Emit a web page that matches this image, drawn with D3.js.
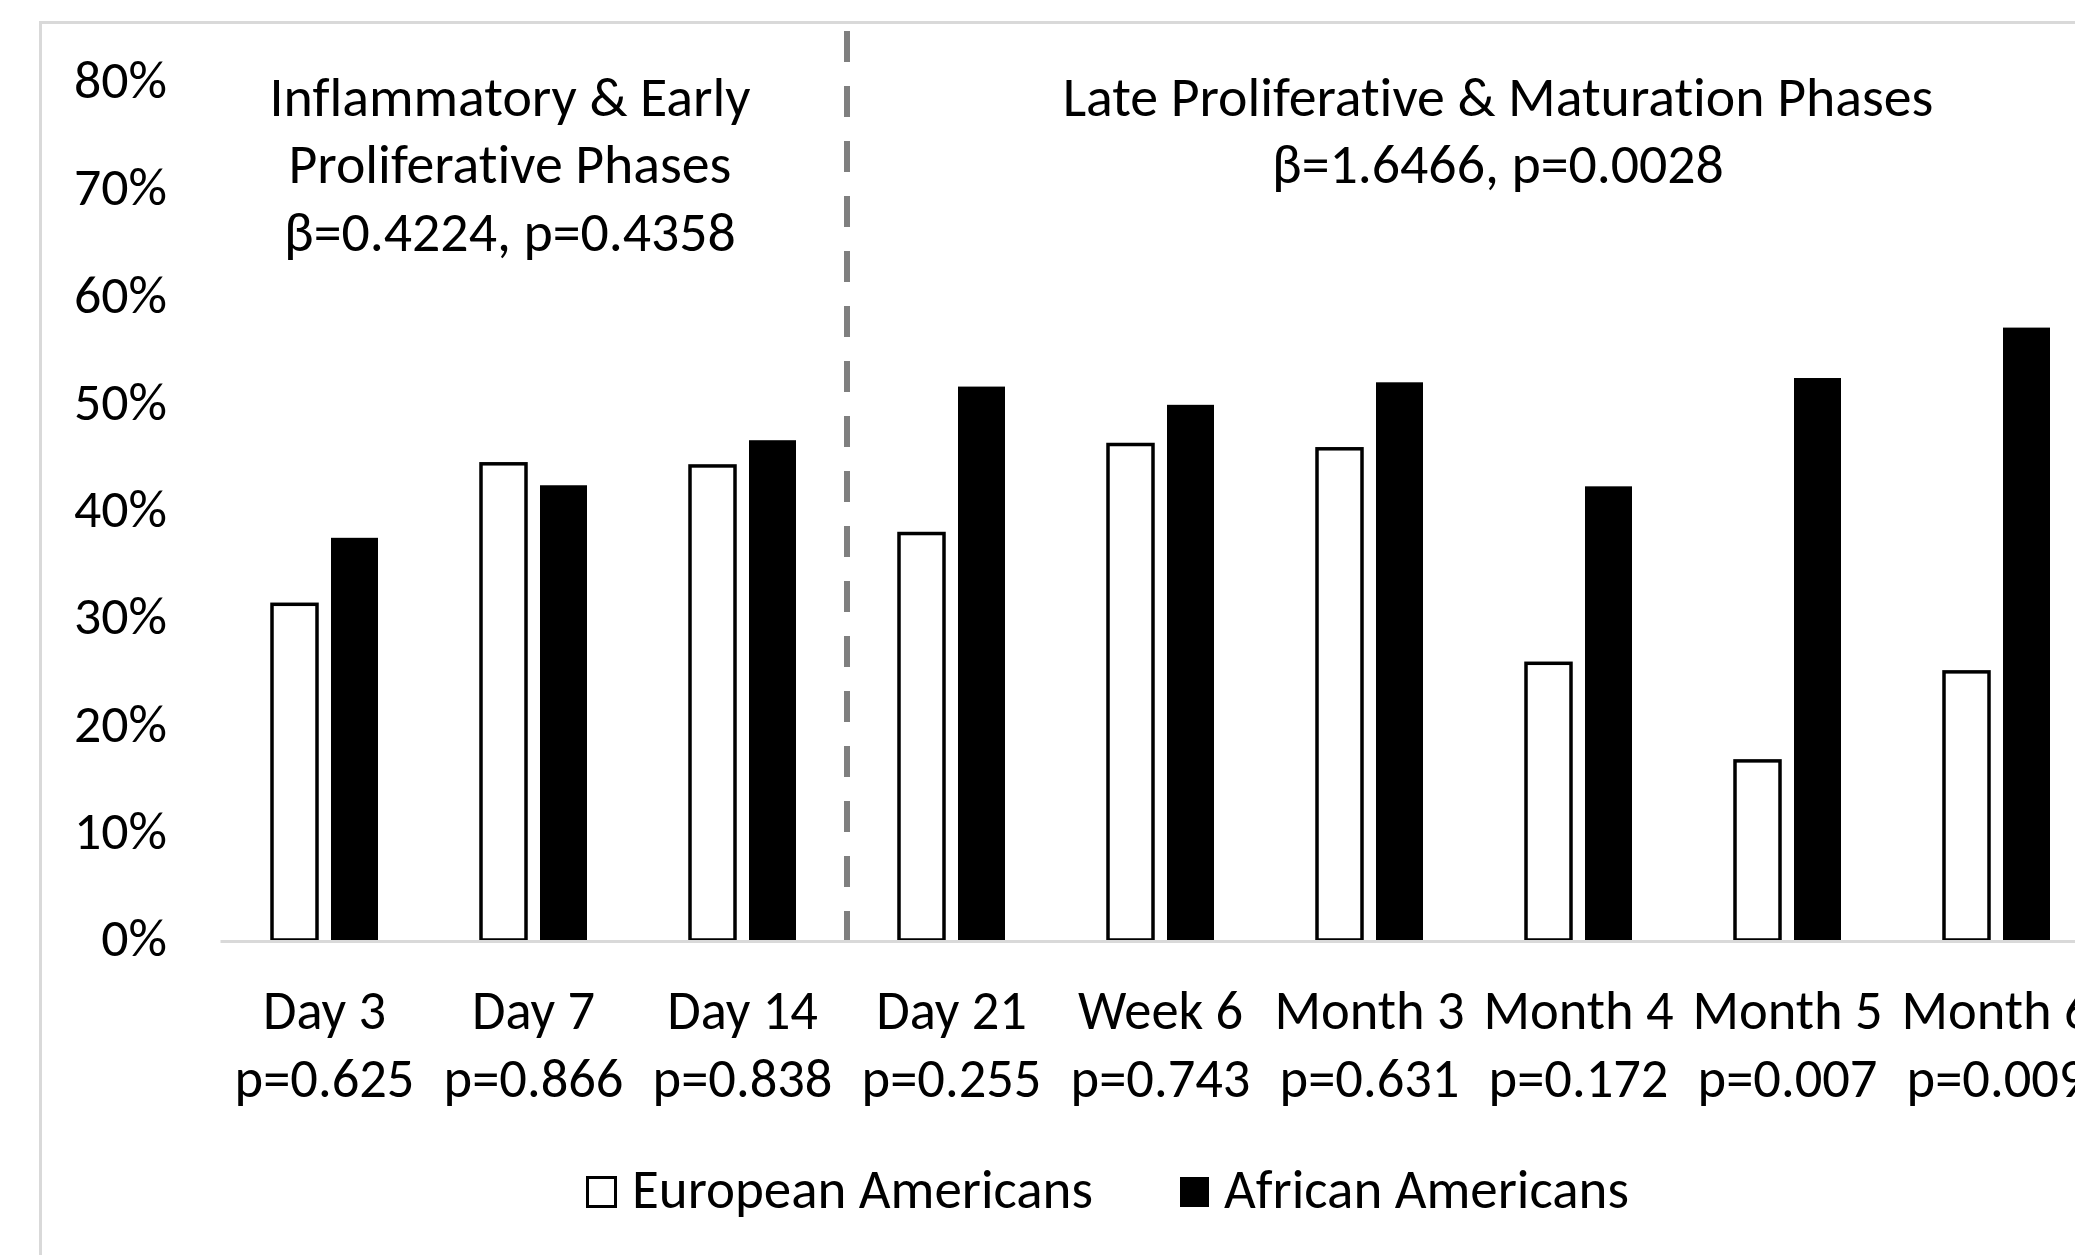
<!DOCTYPE html>
<html><head><meta charset="utf-8">
<script src="https://cdn.jsdelivr.net/npm/d3@7"></script>
<style>html,body{margin:0;padding:0;background:#fff;overflow:hidden}
text{font-variant-ligatures:none;font-feature-settings:"liga" 0,"clig" 0;}</style>
</head><body>
<svg id="chart" width="2075" height="1255" xmlns="http://www.w3.org/2000/svg"></svg>
<script>
// ---------- data ----------
const categories = ["Day 3","Day 7","Day 14","Day 21","Week 6","Month 3","Month 4","Month 5","Month 6"];
const pValues = ["p=0.625","p=0.866","p=0.838","p=0.255","p=0.743","p=0.631","p=0.172","p=0.007","p=0.009"];
const seriesNames = ["European Americans","African Americans"];
const europeanAmericans = [0.313,0.444,0.442,0.379,0.462,0.458,0.258,0.167,0.250];
const africanAmericans  = [0.375,0.424,0.466,0.516,0.499,0.520,0.423,0.524,0.571];
const yTicks = [0,0.1,0.2,0.3,0.4,0.5,0.6,0.7,0.8];
const earlyPhaseLabel = ["Inflammatory & Early","Proliferative Phases","β=0.4224, p=0.4358"];
const latePhaseLabel = ["Late Proliferative & Maturation Phases","β=1.6466, p=0.0028"];
const phaseBoundary = "Day 21";

// ---------- setup ----------
const FONT = "Carlito, Calibri, Lato, 'Open Sans', sans-serif";
const svg = d3.select("#chart");
const fills = {"European Americans":"#ffffff","African Americans":"#000000"};
const seriesValues = {"European Americans":europeanAmericans,"African Americans":africanAmericans};

function fit(sample, target){
  const t = svg.append("text").attr("font-family",FONT).attr("font-size",100).text(sample);
  const w = t.node().getComputedTextLength();
  t.remove();
  return 100*target/w;
}
const fsTick = fit("80%", 93);
const fsPhase = fit(latePhaseLabel[0], 871);
const fsCat = (fit("p=0.625",180)+fit("Month 3",190))/2;
const fsLeg = fit("European Americans", 461);

const x = d3.scaleBand().domain(categories).range([220, 220+9*209]).paddingInner(0).paddingOuter(0);
const xs = d3.scaleBand().domain(seriesNames).range([51, 158]).paddingInner(13/60).paddingOuter(0);
const y = d3.scaleLinear().domain([0,0.8]).range([940,82]);

// frame
svg.append("path").attr("d","M40.5,3000V22.5H3000")
  .attr("fill","none").attr("stroke","#d9d9d9").attr("stroke-width",3);

// y axis labels
const yAxis = d3.axisLeft(y).tickValues(yTicks).tickSize(0).tickFormat(d3.format(".0%"));
const gy = svg.append("g").attr("transform","translate(167,0)").call(yAxis);
gy.select(".domain").remove();
gy.selectAll("text").attr("x",0).attr("dy",null).attr("dominant-baseline","auto")
  .attr("y",15.5).attr("font-family",FONT).attr("font-size",fsTick).attr("fill","#000").attr("text-anchor","end");

// bars
const data = categories.map((c,i)=>({cat:c, vals:seriesNames.map(s=>({s, v:seriesValues[s][i]}))}));
const groups = svg.append("g").selectAll("g").data(data).join("g")
  .attr("transform",d=>`translate(${x(d.cat)},0)`);
groups.selectAll("rect").data(d=>d.vals).join("rect")
  .attr("x",d=> d.s===seriesNames[0] ? xs(d.s)+1 : xs(d.s))
  .attr("width",d=> d.s===seriesNames[0] ? xs.bandwidth()-2 : xs.bandwidth())
  .attr("y",d=>y(d.v))
  .attr("height",d=>y(0)-y(d.v))
  .attr("fill",d=>fills[d.s])
  .attr("stroke",d=> d.s===seriesNames[0] ? "#000" : "none")
  .attr("stroke-width",3.5);

// x axis line & labels
const xAxis = d3.axisBottom(x).tickSize(0).tickSizeOuter(0).tickFormat(()=> "");
const gx = svg.append("g").attr("transform","translate(0,941)").call(xAxis);
gx.select(".domain").attr("stroke","#d9d9d9").attr("stroke-width",3);
gx.selectAll(".tick text").remove();
gx.selectAll(".tick").each(function(c){
  const i = categories.indexOf(c);
  const t = d3.select(this).append("text").attr("text-anchor","middle")
    .attr("font-family",FONT).attr("font-size",fsCat).attr("fill","#000");
  t.append("tspan").attr("x",0).attr("y",88).text(c);
  t.append("tspan").attr("x",0).attr("y",155.5).text(pValues[i]);
});

// dashed phase divider
svg.append("line")
  .attr("x1",x(phaseBoundary)).attr("x2",x(phaseBoundary))
  .attr("y1",31).attr("y2",y(0))
  .attr("stroke","#7f7f7f").attr("stroke-width",6).attr("stroke-dasharray","31,24");

// phase annotations
function block(lines, cx, y0){
  const t = svg.append("text").attr("text-anchor","middle").attr("font-family",FONT)
    .attr("font-size",fsPhase).attr("fill","#000");
  lines.forEach((l,k)=> t.append("tspan").attr("x",cx).attr("y",y0+k*67.5).text(l));
}
block(earlyPhaseLabel, 510, 115.5);
block(latePhaseLabel, 1498, 115.5);

// legend
const legend = svg.append("g").attr("font-family",FONT).attr("font-size",fsLeg);
const legX = [[587.5,632],[1180,1224]];
seriesNames.forEach((s,k)=>{
  const isWhite = k===0;
  legend.append("rect")
    .attr("x", legX[k][0]).attr("y", isWhite?1177.5:1177)
    .attr("width", isWhite?28:29).attr("height", isWhite?29:30)
    .attr("fill", fills[s]).attr("stroke", isWhite?"#000":"none").attr("stroke-width",3);
  legend.append("text").attr("x",legX[k][1]).attr("y",1208).attr("fill","#000").text(s);
});
</script>
</body></html>
